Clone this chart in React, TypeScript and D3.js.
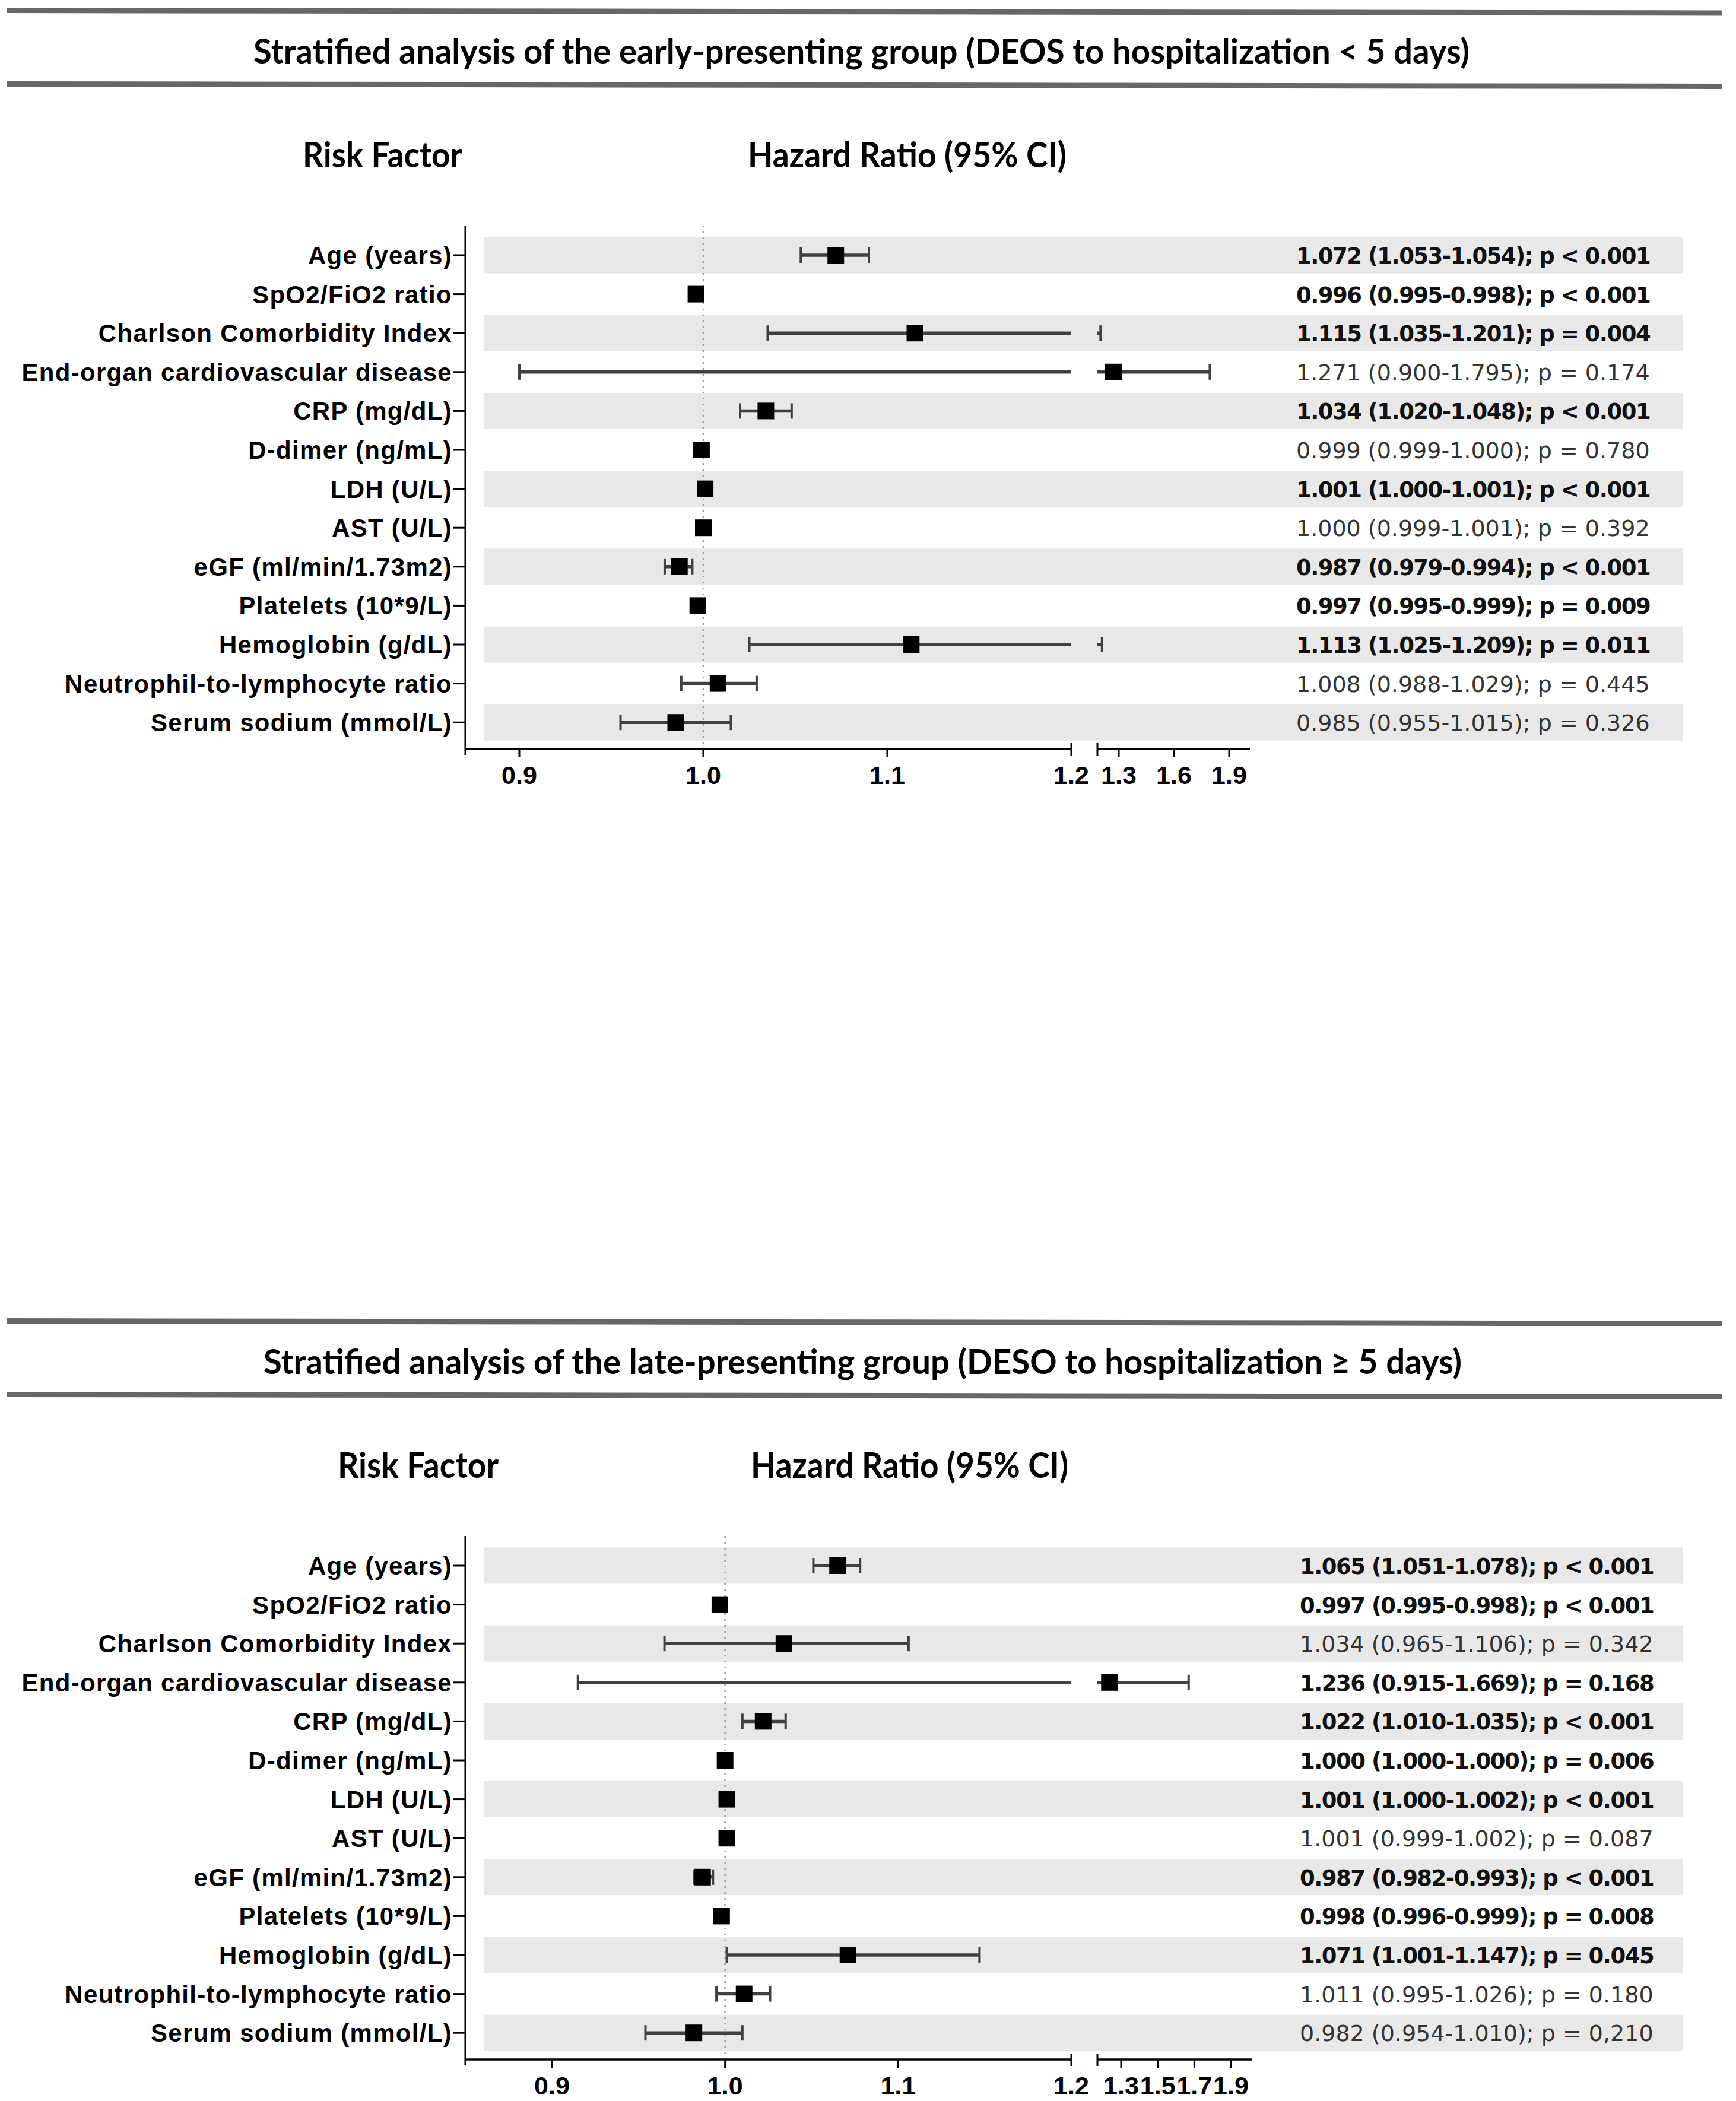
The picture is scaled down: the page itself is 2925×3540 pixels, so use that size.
import React from 'react';
import * as d3 from 'd3';

const factors = [
  'Age (years)',
  'SpO2/FiO2 ratio',
  'Charlson Comorbidity Index',
  'End-organ cardiovascular disease',
  'CRP (mg/dL)',
  'D-dimer (ng/mL)',
  'LDH (U/L)',
  'AST (U/L)',
  'eGF (ml/min/1.73m2)',
  'Platelets (10*9/L)',
  'Hemoglobin (g/dL)',
  'Neutrophil-to-lymphocyte ratio',
  'Serum sodium (mmol/L)',
];

const earlyTitle = 'Stratified analysis of the early-presenting group (DEOS to hospitalization < 5 days)';
const lateTitle = 'Stratified analysis of the late-presenting group (DESO to hospitalization \u2265 5 days)';

const earlyHR = [1.072, 0.996, 1.115, 1.271, 1.034, 0.999, 1.001, 1.0, 0.987, 0.997, 1.113, 1.008, 0.985];
const earlyLo = [1.053, 0.995, 1.035, 0.9, 1.02, 0.999, 1.0, 0.999, 0.979, 0.995, 1.025, 0.988, 0.955];
const earlyHi = [1.09, 0.998, 1.201, 1.795, 1.048, 1.0, 1.001, 1.001, 0.994, 0.999, 1.209, 1.029, 1.015];
const earlyText = [
  '1.072 (1.053-1.054); p < 0.001',
  '0.996 (0.995-0.998); p < 0.001',
  '1.115 (1.035-1.201); p = 0.004',
  '1.271 (0.900-1.795); p = 0.174',
  '1.034 (1.020-1.048); p < 0.001',
  '0.999 (0.999-1.000); p = 0.780',
  '1.001 (1.000-1.001); p < 0.001',
  '1.000 (0.999-1.001); p = 0.392',
  '0.987 (0.979-0.994); p < 0.001',
  '0.997 (0.995-0.999); p = 0.009',
  '1.113 (1.025-1.209); p = 0.011',
  '1.008 (0.988-1.029); p = 0.445',
  '0.985 (0.955-1.015); p = 0.326',
];
const earlyBold = [true, true, true, false, true, false, true, false, true, true, true, false, false];

const lateHR = [1.065, 0.997, 1.034, 1.236, 1.022, 1.0, 1.001, 1.001, 0.987, 0.998, 1.071, 1.011, 0.982];
const lateLo = [1.051, 0.995, 0.965, 0.915, 1.01, 1.0, 1.0, 0.999, 0.982, 0.996, 1.001, 0.995, 0.954];
const lateHi = [1.078, 0.998, 1.106, 1.669, 1.035, 1.0, 1.002, 1.002, 0.993, 0.999, 1.147, 1.026, 1.01];
const lateText = [
  '1.065 (1.051-1.078); p < 0.001',
  '0.997 (0.995-0.998); p < 0.001',
  '1.034 (0.965-1.106); p = 0.342',
  '1.236 (0.915-1.669); p = 0.168',
  '1.022 (1.010-1.035); p < 0.001',
  '1.000 (1.000-1.000); p = 0.006',
  '1.001 (1.000-1.002); p < 0.001',
  '1.001 (0.999-1.002); p = 0.087',
  '0.987 (0.982-0.993); p < 0.001',
  '0.998 (0.996-0.999); p = 0.008',
  '1.071 (1.001-1.147); p = 0.045',
  '1.011 (0.995-1.026); p = 0.180',
  '0.982 (0.954-1.010); p = 0,210',
];
const lateBold = [true, true, false, true, true, true, true, false, true, true, true, false, false];

const leftTicks = [0.9, 1.0, 1.1, 1.2];
const earlyRightTicks = [1.3, 1.6, 1.9];
const lateRightTicks = [1.3, 1.5, 1.7, 1.9];

const BREAK = 1.2;

type PanelProps = {
  dy: number;
  title: string;
  titleX: [number, number];
  riskX: [number, number];
  hazX: [number, number];
  textX: number;
  hr: number[];
  lo: number[];
  hi: number[];
  text: string[];
  bold: boolean[];
  leftRange: [number, number];
  rightRange: [number, number];
  rightEnd: number;
  rightTicks: number[];
};

const fmt = d3.format('.1f');

function Panel(p: PanelProps) {
  const axisX = 784;
  const topY = 380;
  const axisY = 1262;
  const segEnd = 1805;
  const segStart2 = 1849;
  const L = d3.scaleLinear().domain([0.9, 1.2]).range(p.leftRange);
  const R = d3.scaleLinear().domain([1.3, 1.9]).range(p.rightRange);
  const y = d3
    .scalePoint<number>()
    .domain(d3.range(factors.length))
    .range([430, 430 + 65.6 * (factors.length - 1)]);
  const pos = (v: number) => (v <= BREAK ? L(v) : Math.max(segStart2, R(v)));
  const ink = '#404040';
  const headFont = "Lato, 'Open Sans', sans-serif";
  const armFont = "'Liberation Sans', Arial, sans-serif";
  return (
    <g transform={`translate(0,${p.dy})`}>
      {/* rules */}
      <line x1={11} y1={17.5} x2={2901} y2={22} stroke="#676767" strokeWidth={9} />
      <line x1={11} y1={141.5} x2={2901} y2={145.5} stroke="#676767" strokeWidth={9} />
      <text
        x={p.titleX[0]}
        y={107}
        textLength={p.titleX[1] - p.titleX[0]}
        lengthAdjust="spacingAndGlyphs"
        fontFamily={headFont}
        fontWeight={700}
        fontSize={57}
        fill="#000"
      >
        {p.title}
      </text>
      <text
        x={p.riskX[0]}
        y={282}
        textLength={p.riskX[1] - p.riskX[0]}
        lengthAdjust="spacingAndGlyphs"
        fontFamily={headFont}
        fontWeight={700}
        fontSize={60}
        fill="#000"
      >
        Risk Factor
      </text>
      <text
        x={p.hazX[0]}
        y={282}
        textLength={p.hazX[1] - p.hazX[0]}
        lengthAdjust="spacingAndGlyphs"
        fontFamily={headFont}
        fontWeight={700}
        fontSize={60}
        fill="#000"
      >
        Hazard Ratio (95% CI)
      </text>

      {/* bands */}
      {factors.map((f, i) =>
        i % 2 === 0 ? (
          <rect key={'b' + i} x={815} y={(y(i) as number) - 30.5} width={2835 - 815} height={61} fill="#e8e8e8" />
        ) : null
      )}

      {/* reference line */}
      <line x1={L(1.0)} x2={L(1.0)} y1={topY} y2={axisY} stroke="#999" strokeWidth={2.5} strokeDasharray="3 7" />

      {/* y axis */}
      <line x1={axisX} x2={axisX} y1={topY} y2={axisY + 10} stroke="#000" strokeWidth={3} />
      {factors.map((f, i) => (
        <g key={'y' + i}>
          <line x1={764} x2={axisX} y1={y(i)} y2={y(i)} stroke="#000" strokeWidth={3} />
          <text
            x={762}
            y={(y(i) as number) + 15}
            textAnchor="end"
            fontFamily={armFont}
            fontWeight={700}
            fontSize={42}
            letterSpacing={1.3}
            fill="#000"
          >
            {f}
          </text>
        </g>
      ))}

      {/* x axis */}
      <line x1={axisX} x2={segEnd} y1={axisY} y2={axisY} stroke="#000" strokeWidth={3.5} />
      <line x1={segEnd} x2={segEnd} y1={axisY - 10} y2={axisY + 11} stroke="#000" strokeWidth={3} />
      <line x1={segStart2} x2={p.rightEnd} y1={axisY} y2={axisY} stroke="#000" strokeWidth={3.5} />
      <line x1={segStart2} x2={segStart2} y1={axisY - 10} y2={axisY + 11} stroke="#000" strokeWidth={3} />
      {leftTicks.map((t) => (
        <g key={'lt' + t}>
          {t < BREAK ? (
            <line x1={L(t)} x2={L(t)} y1={axisY} y2={axisY + 14} stroke="#000" strokeWidth={3} />
          ) : null}
          <text
            x={L(t)}
            y={1321}
            textAnchor="middle"
            fontFamily={armFont}
            fontWeight={700}
            fontSize={43}
            fill="#000"
          >
            {fmt(t)}
          </text>
        </g>
      ))}
      {p.rightTicks.map((t) => (
        <g key={'rt' + t}>
          <line x1={R(t)} x2={R(t)} y1={axisY} y2={axisY + 14} stroke="#000" strokeWidth={3} />
          <text
            x={R(t)}
            y={1321}
            textAnchor="middle"
            fontFamily={armFont}
            fontWeight={700}
            fontSize={43}
            fill="#000"
          >
            {fmt(t)}
          </text>
        </g>
      ))}

      {/* CIs and points */}
      {factors.map((f, i) => {
        const cy = y(i) as number;
        const lo = p.lo[i];
        const hi = p.hi[i];
        const segs: [number, number][] = [];
        if (lo < BREAK) segs.push([L(lo), L(Math.min(hi, BREAK))]);
        if (hi > BREAK) segs.push([Math.max(segStart2, lo > BREAK ? R(lo) : segStart2), pos(hi)]);
        const capH = 13;
        return (
          <g key={'ci' + i}>
            {segs.map((s, k) => (
              <line key={k} x1={s[0]} x2={s[1]} y1={cy} y2={cy} stroke={ink} strokeWidth={5.5} />
            ))}
            <line x1={pos(lo)} x2={pos(lo)} y1={cy - capH} y2={cy + capH} stroke={ink} strokeWidth={4} />
            <line x1={pos(hi)} x2={pos(hi)} y1={cy - capH} y2={cy + capH} stroke={ink} strokeWidth={4} />
            <rect x={pos(p.hr[i]) - 14} y={cy - 14} width={28} height={28} fill="#000" />
          </g>
        );
      })}

      {/* right text */}
      {p.text.map((t, i) => (
        <text
          key={'t' + i}
          x={p.textX}
          y={(y(i) as number) + 14}
          fontFamily="'DejaVu Sans', Verdana, sans-serif"
          fontWeight={p.bold[i] ? 700 : 400}
          fontSize={p.bold[i] ? 37 : 38}
          letterSpacing={p.bold[i] ? -1.5 : 0}
          fill={p.bold[i] ? '#111' : '#333'}
        >
          {t}
        </text>
      ))}
    </g>
  );
}

export default function App() {
  return (
    <svg
      width={2925}
      height={3540}
      viewBox="0 0 2925 3540"
      style={{ position: 'absolute', left: 0, top: 0, background: '#fff' }}
    >
      <rect x={0} y={0} width={2925} height={3540} fill="#fff" />
      <Panel
        dy={0}
        title={earlyTitle}
        titleX={[427, 2476]}
        riskX={[510, 779]}
        hazX={[1260, 1797]}
        textX={2184}
        hr={earlyHR}
        lo={earlyLo}
        hi={earlyHi}
        text={earlyText}
        bold={earlyBold}
        leftRange={[875, 1805]}
        rightRange={[1885, 2071]}
        rightEnd={2106}
        rightTicks={earlyRightTicks}
      />
      <Panel
        dy={2208}
        title={lateTitle}
        titleX={[444, 2463]}
        riskX={[569, 840]}
        hazX={[1265, 1800]}
        textX={2190}
        hr={lateHR}
        lo={lateLo}
        hi={lateHi}
        text={lateText}
        bold={lateBold}
        leftRange={[930, 1805]}
        rightRange={[1889, 2074]}
        rightEnd={2109}
        rightTicks={lateRightTicks}
      />
    </svg>
  );
}
